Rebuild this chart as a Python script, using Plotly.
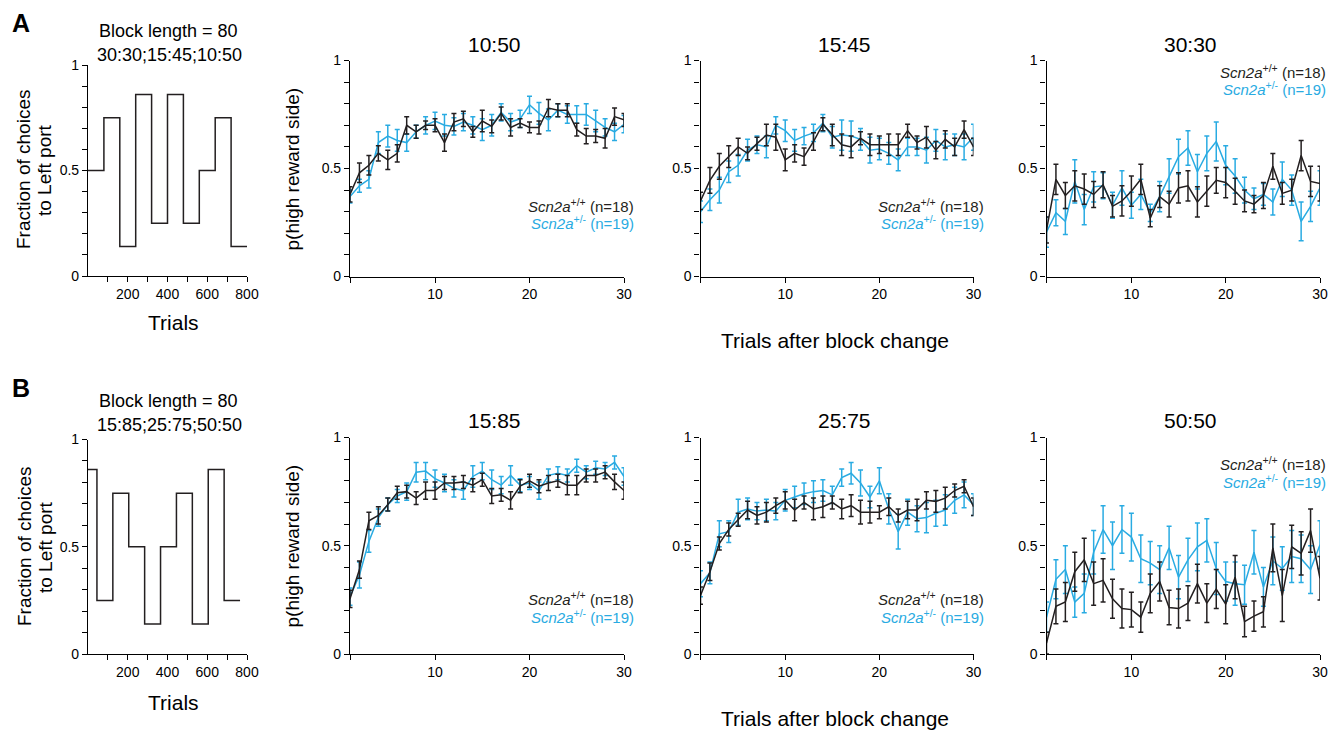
import plotly.graph_objects as go

W, H = 1343, 730
OFF = 8  # page body margin of the rendered html
BLACK = "#231f20"
BLUE = "#29abe2"
FONT = "Arial, Liberation Sans, Helvetica, sans-serif"

trials = list(range(1, 31))

# ---- block schedules (step plots) ----
a_edges = [0, 80, 160, 240, 320, 400, 480, 560, 640, 720, 800]
a_vals = [0.5, 0.75, 0.14, 0.86, 0.25, 0.86, 0.25, 0.5, 0.75, 0.14]
b_edges = [0, 45, 125, 205, 285, 365, 445, 525, 605, 685, 765]
b_vals = [0.86, 0.25, 0.75, 0.5, 0.14, 0.5, 0.75, 0.14, 0.86, 0.25]

# ---- A: 10:50 ----
a1_wt = [0.38, 0.48, 0.515, 0.57, 0.54, 0.57, 0.70, 0.67, 0.70, 0.70, 0.62, 0.715, 0.73, 0.67, 0.72,
         0.695, 0.755, 0.69, 0.71, 0.69, 0.69, 0.78, 0.77, 0.77, 0.68, 0.65, 0.65, 0.64, 0.74, 0.725]
a1_wt_e = [0.035, 0.045, 0.045, 0.035, 0.045, 0.04, 0.04, 0.03, 0.02, 0.03, 0.04, 0.04, 0.035, 0.025, 0.05,
           0.03, 0.03, 0.04, 0.02, 0.025, 0.03, 0.04, 0.03, 0.03, 0.03, 0.035, 0.03, 0.045, 0.04, 0.03]
a1_het = [0.37, 0.42, 0.45, 0.62, 0.65, 0.63, 0.62, 0.67, 0.70, 0.72, 0.70, 0.695, 0.715, 0.70, 0.68,
          0.70, 0.76, 0.715, 0.73, 0.795, 0.755, 0.725, 0.77, 0.75, 0.75, 0.75, 0.72, 0.69, 0.67, 0.705]
a1_het_e = [0.03, 0.03, 0.04, 0.05, 0.05, 0.05, 0.04, 0.03, 0.04, 0.04, 0.05, 0.04, 0.04, 0.04, 0.05,
            0.05, 0.04, 0.04, 0.04, 0.04, 0.05, 0.05, 0.03, 0.04, 0.04, 0.05, 0.05, 0.04, 0.04, 0.04]

# ---- A: 15:45 ----
a2_wt = [0.35, 0.445, 0.51, 0.555, 0.60, 0.57, 0.615, 0.655, 0.645, 0.54, 0.57, 0.555, 0.625, 0.705, 0.655,
         0.61, 0.60, 0.64, 0.61, 0.61, 0.61, 0.61, 0.675, 0.62, 0.645, 0.585, 0.635, 0.60, 0.68, 0.60]
a2_wt_e = [0.04, 0.06, 0.06, 0.05, 0.04, 0.03, 0.03, 0.05, 0.06, 0.05, 0.04, 0.04, 0.04, 0.03, 0.05,
           0.05, 0.05, 0.03, 0.05, 0.04, 0.05, 0.05, 0.03, 0.03, 0.05, 0.04, 0.04, 0.04, 0.04, 0.04]
a2_het = [0.30, 0.355, 0.40, 0.485, 0.515, 0.585, 0.61, 0.60, 0.70, 0.675, 0.63, 0.65, 0.665, 0.71, 0.645,
          0.655, 0.65, 0.635, 0.585, 0.59, 0.57, 0.54, 0.60, 0.60, 0.585, 0.63, 0.60, 0.61, 0.60, 0.645]
a2_het_e = [0.05, 0.05, 0.06, 0.05, 0.05, 0.05, 0.04, 0.05, 0.04, 0.05, 0.05, 0.04, 0.04, 0.04, 0.05,
            0.07, 0.07, 0.05, 0.06, 0.05, 0.05, 0.05, 0.04, 0.04, 0.06, 0.05, 0.06, 0.05, 0.06, 0.06]

# ---- A: 30:30 ----
a3_wt = [0.215, 0.45, 0.375, 0.42, 0.405, 0.38, 0.425, 0.325, 0.35, 0.395, 0.45, 0.27, 0.37, 0.335, 0.41,
         0.42, 0.345, 0.395, 0.445, 0.435, 0.395, 0.35, 0.335, 0.375, 0.51, 0.385, 0.40, 0.56, 0.44, 0.43]
a3_wt_e = [0.06, 0.07, 0.06, 0.07, 0.07, 0.06, 0.06, 0.05, 0.07, 0.07, 0.07, 0.04, 0.05, 0.06, 0.07,
           0.07, 0.07, 0.07, 0.06, 0.07, 0.06, 0.05, 0.04, 0.06, 0.06, 0.05, 0.05, 0.07, 0.07, 0.08]
a3_het = [0.205, 0.295, 0.255, 0.44, 0.31, 0.415, 0.42, 0.33, 0.41, 0.33, 0.38, 0.295, 0.37, 0.465, 0.555,
          0.595, 0.485, 0.57, 0.625, 0.515, 0.465, 0.40, 0.36, 0.38, 0.345, 0.45, 0.40, 0.255, 0.325, 0.41]
a3_het_e = [0.07, 0.06, 0.06, 0.10, 0.07, 0.07, 0.06, 0.06, 0.08, 0.06, 0.07, 0.04, 0.07, 0.08, 0.08,
            0.08, 0.08, 0.08, 0.09, 0.09, 0.08, 0.06, 0.05, 0.05, 0.06, 0.08, 0.07, 0.09, 0.07, 0.08]

# ---- B: 15:85 ----
b1_wt = [0.255, 0.39, 0.615, 0.64, 0.69, 0.745, 0.75, 0.72, 0.755, 0.755, 0.79, 0.79, 0.795, 0.78, 0.805,
         0.73, 0.735, 0.71, 0.775, 0.80, 0.775, 0.79, 0.80, 0.78, 0.78, 0.825, 0.825, 0.84, 0.795, 0.755]
b1_wt_e = [0.04, 0.04, 0.04, 0.04, 0.03, 0.03, 0.03, 0.03, 0.04, 0.04, 0.03, 0.03, 0.03, 0.03, 0.03,
           0.035, 0.03, 0.04, 0.03, 0.03, 0.03, 0.035, 0.03, 0.045, 0.045, 0.03, 0.03, 0.03, 0.035, 0.04]
b1_het = [0.265, 0.365, 0.52, 0.63, 0.69, 0.73, 0.75, 0.84, 0.845, 0.81, 0.79, 0.765, 0.755, 0.82, 0.845,
          0.805, 0.78, 0.825, 0.78, 0.79, 0.755, 0.825, 0.835, 0.825, 0.87, 0.84, 0.86, 0.855, 0.885, 0.82]
b1_het_e = [0.04, 0.06, 0.05, 0.04, 0.03, 0.03, 0.04, 0.045, 0.04, 0.04, 0.04, 0.04, 0.04, 0.05, 0.04,
            0.045, 0.04, 0.045, 0.03, 0.03, 0.04, 0.03, 0.03, 0.03, 0.03, 0.03, 0.03, 0.03, 0.03, 0.04]

# ---- B: 25:75 ----
b2_wt = [0.27, 0.38, 0.51, 0.575, 0.62, 0.665, 0.64, 0.655, 0.685, 0.71, 0.665, 0.70, 0.67, 0.68, 0.70,
         0.67, 0.685, 0.655, 0.655, 0.655, 0.68, 0.64, 0.665, 0.665, 0.71, 0.705, 0.72, 0.755, 0.775, 0.68]
b2_wt_e = [0.04, 0.04, 0.03, 0.03, 0.03, 0.04, 0.04, 0.045, 0.035, 0.04, 0.05, 0.03, 0.05, 0.05, 0.03,
           0.045, 0.05, 0.055, 0.05, 0.03, 0.04, 0.03, 0.04, 0.05, 0.04, 0.05, 0.05, 0.03, 0.03, 0.04]
b2_het = [0.325, 0.375, 0.555, 0.565, 0.655, 0.67, 0.66, 0.665, 0.66, 0.71, 0.725, 0.74, 0.75, 0.755, 0.735,
          0.815, 0.835, 0.79, 0.725, 0.80, 0.67, 0.565, 0.655, 0.625, 0.63, 0.65, 0.665, 0.71, 0.735, 0.69]
b2_het_e = [0.06, 0.05, 0.06, 0.05, 0.06, 0.05, 0.04, 0.05, 0.04, 0.05, 0.05, 0.05, 0.05, 0.05, 0.04,
            0.04, 0.05, 0.06, 0.05, 0.06, 0.07, 0.08, 0.06, 0.06, 0.07, 0.06, 0.07, 0.06, 0.06, 0.05]

# ---- B: 50:50 ----
b3_wt = [0.05, 0.22, 0.24, 0.38, 0.435, 0.325, 0.34, 0.255, 0.21, 0.205, 0.17, 0.28, 0.335, 0.215, 0.21,
         0.235, 0.325, 0.235, 0.30, 0.23, 0.355, 0.15, 0.175, 0.195, 0.49, 0.27, 0.495, 0.465, 0.57, 0.35]
b3_wt_e = [0.05, 0.08, 0.09, 0.09, 0.10, 0.10, 0.10, 0.09, 0.09, 0.08, 0.07, 0.09, 0.09, 0.08, 0.09,
           0.08, 0.09, 0.09, 0.09, 0.09, 0.10, 0.07, 0.07, 0.07, 0.11, 0.12, 0.10, 0.10, 0.10, 0.10]
b3_het = [0.17, 0.345, 0.39, 0.24, 0.28, 0.47, 0.575, 0.50, 0.575, 0.54, 0.44, 0.42, 0.39, 0.49, 0.355,
          0.435, 0.495, 0.525, 0.395, 0.335, 0.325, 0.32, 0.47, 0.31, 0.43, 0.395, 0.45, 0.44, 0.39, 0.505]
b3_het_e = [0.07, 0.09, 0.11, 0.07, 0.09, 0.10, 0.11, 0.11, 0.11, 0.11, 0.11, 0.10, 0.11, 0.10, 0.10,
            0.10, 0.11, 0.10, 0.12, 0.09, 0.10, 0.09, 0.10, 0.09, 0.11, 0.10, 0.12, 0.11, 0.11, 0.11]

panel_titles = ["10:50", "15:45", "30:30", "15:85", "25:75", "50:50"]
wt_label = "<i>Scn2a</i><sup>+/+</sup> (n=18)"
het_label = "<i>Scn2a</i><sup>+/-</sup> (n=19)"

panels = [
    (a1_wt, a1_wt_e, a1_het, a1_het_e),
    (a2_wt, a2_wt_e, a2_het, a2_het_e),
    (a3_wt, a3_wt_e, a3_het, a3_het_e),
    (b1_wt, b1_wt_e, b1_het, b1_het_e),
    (b2_wt, b2_wt_e, b2_het, b2_het_e),
    (b3_wt, b3_wt_e, b3_het, b3_het_e),
]

# pixel geometry (screen pixels of the target picture)
col_x = [(350, 624), (700.5, 973.5), (1046.5, 1320)]
row_y = [(60.5, 276.5), (437.5, 654)]
step_x = (88, 247)
step_rows = [(65, 276), (439.5, 654)]


def px(x):
    return (x - OFF) / W


def py(y):
    return 1 - (y - OFF) / H


def xd(p0, p1):
    return [px(p0), px(p1)]


def yd(top, bottom):
    return [py(bottom), py(top)]


def axis_common():
    return dict(showline=True, linecolor="black", linewidth=1.2, ticks="outside", ticklen=5,
                tickwidth=1.2, tickcolor="black", showgrid=False, zeroline=False, automargin=False,
                tickfont=dict(size=14, color="black", family=FONT), fixedrange=True)


MINOR_Y = dict(tickvals=[0.1, 0.2, 0.3, 0.4, 0.6, 0.7, 0.8, 0.9], ticks="outside", ticklen=5,
               tickwidth=1.2, tickcolor="black")

fig = go.Figure()
layout = dict(width=W, height=H, autosize=False,
              margin=dict(l=0, r=0, t=0, b=0, pad=0, autoexpand=False), plot_bgcolor="white",
              paper_bgcolor="white", showlegend=False, font=dict(family=FONT, color="black"))
annotations = []

ax_i = 0
# step plots
for r, (edges, vals) in enumerate([(a_edges, a_vals), (b_edges, b_vals)]):
    ax_i += 1
    xs = "x" if ax_i == 1 else f"x{ax_i}"
    ys = "y" if ax_i == 1 else f"y{ax_i}"
    fig.add_trace(go.Scatter(x=edges, y=vals + [vals[-1]], mode="lines", line_shape="hv",
                             line=dict(color=BLACK, width=1.5), xaxis=xs, yaxis=ys, hoverinfo="skip"))
    xa = axis_common()
    xa.update(domain=xd(*step_x), range=[0, 800], tickvals=[200, 400, 600, 800], anchor=ys,
              minor=dict(tickvals=[100, 300, 500, 700], ticks="outside", ticklen=5, tickwidth=1.2,
                         tickcolor="black"))
    ya = axis_common()
    ya.update(domain=yd(*step_rows[r]), range=[0, 1], tickvals=[0, 0.5, 1], ticktext=["0", "0.5", "1"],
              anchor=xs, minor=MINOR_Y)
    layout["xaxis" if ax_i == 1 else f"xaxis{ax_i}"] = xa
    layout["yaxis" if ax_i == 1 else f"yaxis{ax_i}"] = ya

# data panels
for p, (wt, wte, het, hete) in enumerate(panels):
    r, c = divmod(p, 3)
    ax_i += 1
    xs, ys = f"x{ax_i}", f"y{ax_i}"
    for vals, errs, color in [(het, hete, BLUE), (wt, wte, BLACK)]:
        fig.add_trace(go.Scatter(
            x=trials, y=vals, mode="lines", line=dict(color=color, width=1.5),
            error_y=dict(type="data", array=errs, visible=True, color=color, thickness=1.5, width=2.5),
            xaxis=xs, yaxis=ys, hoverinfo="skip"))
    xa = axis_common()
    xa.update(domain=xd(*col_x[c]), range=[1, 30], tickvals=[1, 10, 20, 30], ticktext=["", "10", "20", "30"],
              anchor=ys)
    ya = axis_common()
    ya.update(domain=yd(*row_y[r]), range=[0, 1], tickvals=[0, 0.5, 1], ticktext=["0", "0.5", "1"],
              anchor=xs, minor=MINOR_Y)
    layout[f"xaxis{ax_i}"] = xa
    layout[f"yaxis{ax_i}"] = ya

    cx = (col_x[c][0] + col_x[c][1]) / 2 + 7
    top = row_y[r][0]
    annotations.append(dict(text=panel_titles[p], x=px(cx), y=py(top - 16.5), xanchor="center",
                            yanchor="middle", font=dict(size=21)))
    # legend text
    right = col_x[c][1] + (8 if c == 2 else 12)
    if c == 2:
        ly = [top + 10.5, top + 27.5] if r == 0 else [top + 25.5, top + 44]
    else:
        ly = [top + 144.5, top + 161.5] if r == 0 else [top + 160.5, top + 178.5]
    annotations.append(dict(text=wt_label, x=px(right), y=py(ly[0]), xanchor="right", yanchor="middle",
                            font=dict(size=15, color=BLACK)))
    annotations.append(dict(text=het_label, x=px(right), y=py(ly[1]), xanchor="right", yanchor="middle",
                            font=dict(size=15, color=BLUE)))

# row-level labels
row_info = [("A", "30:30;15:45;10:50", 0, 0, 0, 0),
            ("B", "15:85;25:75;50:50", 365, 370, 380, 377)]
for letter, sched, off_l, off_b, off_t, off_p in row_info:
    annotations += [
        dict(text=f"<b>{letter}</b>", x=px(10), y=py(23 + off_l), xanchor="left", yanchor="middle",
             font=dict(size=25)),
        dict(text="Block length = 80", x=px(168.5), y=py(30.5 + off_b), xanchor="center", yanchor="middle",
             font=dict(size=18)),
        dict(text=sched, x=px(169), y=py(55 + off_b), xanchor="center", yanchor="middle",
             font=dict(size=18)),
        dict(text="Trials", x=px(173.5), y=py(322 + off_t), xanchor="center", yanchor="middle",
             font=dict(size=21)),
        dict(text="Fraction of choices", x=px(24), y=py(170 + off_p), xanchor="center",
             yanchor="middle", textangle=-90, font=dict(size=19)),
        dict(text="to Left port", x=px(45), y=py(170 + off_p), xanchor="center",
             yanchor="middle", textangle=-90, font=dict(size=19)),
        dict(text="p(high reward side)", x=px(292), y=py(169.5 + off_p), xanchor="center",
             yanchor="middle", textangle=-90, font=dict(size=19)),
        dict(text="Trials after block change", x=px(834.5), y=py(340 + off_p - (0 if off_p == 0 else -1)),
             xanchor="center", yanchor="middle", font=dict(size=21)),
    ]
for a in annotations:
    a.setdefault("xref", "paper")
    a.setdefault("yref", "paper")
    a.setdefault("showarrow", False)

layout["annotations"] = annotations
fig.update_layout(**layout)
fig.write_html("out.html")
